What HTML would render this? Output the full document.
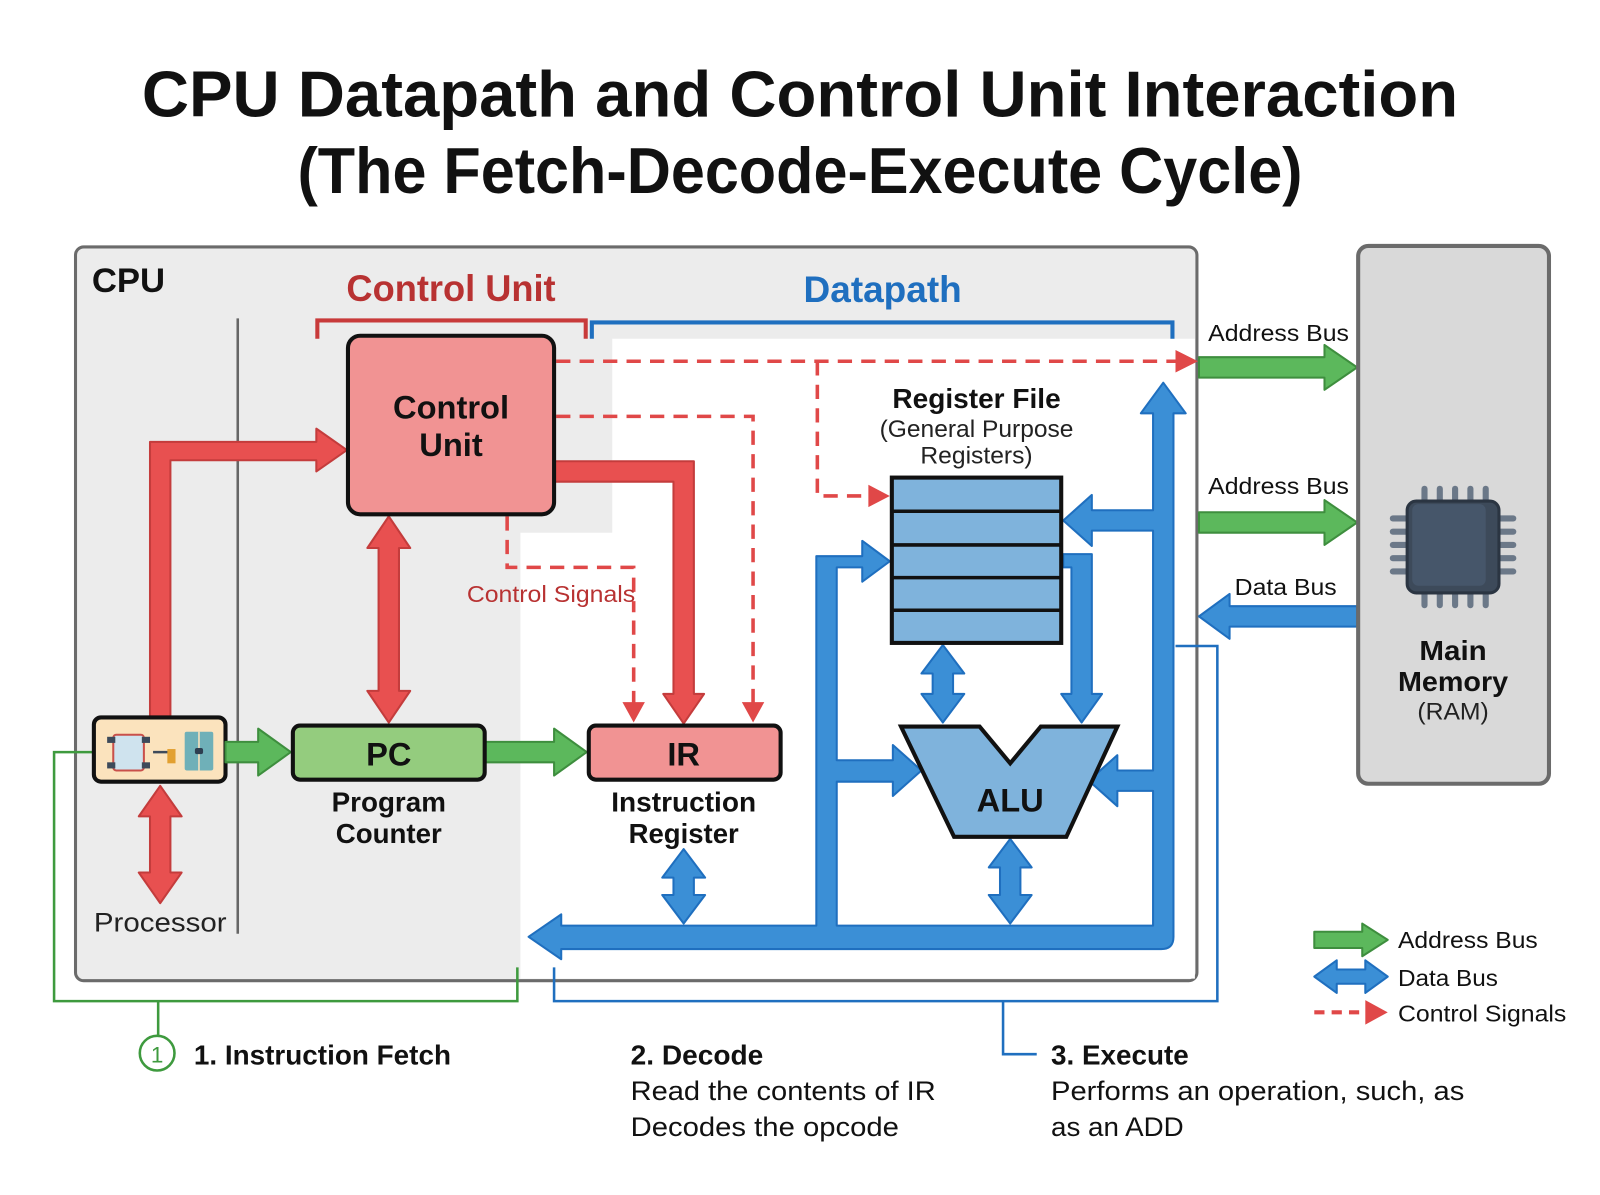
<!DOCTYPE html>
<html><head><meta charset="utf-8">
<style>html,body{margin:0;padding:0;background:#fff;}svg{display:block;}
text{font-family:"Liberation Sans",sans-serif;}</style></head>
<body>
<svg width="1600" height="1195" viewBox="0 0 1568 1171" preserveAspectRatio="none" xmlns="http://www.w3.org/2000/svg">
<rect width="1568" height="1171" fill="#fff"/>
<!-- Title -->
<text x="784" y="114" text-anchor="middle" font-size="64" font-weight="bold" fill="#111" textLength="1290" lengthAdjust="spacingAndGlyphs">CPU Datapath and Control Unit Interaction</text>
<text x="784" y="189" text-anchor="middle" font-size="64" font-weight="bold" fill="#111" textLength="985" lengthAdjust="spacingAndGlyphs">(The Fetch-Decode-Execute Cycle)</text>

<!-- CPU box -->
<rect x="74" y="242" width="1099" height="719" rx="8" fill="#ececec" stroke="#6b6b6b" stroke-width="3"/>
<path d="M600 332 H1171 V959 H510 V522 H600 Z" fill="#fff"/>
<text x="90" y="286" font-size="34" font-weight="bold" fill="#111">CPU</text>
<line x1="233" y1="312" x2="233" y2="915" stroke="#666" stroke-width="2.5"/>
<text x="442" y="295" text-anchor="middle" font-size="36" font-weight="bold" fill="#b83232" textLength="205" lengthAdjust="spacingAndGlyphs">Control Unit</text>
<path d="M311 332 V314 H574 V332" fill="none" stroke="#c83a3a" stroke-width="4"/>
<text x="865" y="296" text-anchor="middle" font-size="36" font-weight="bold" fill="#1f6fbf" textLength="155" lengthAdjust="spacingAndGlyphs">Datapath</text>
<path d="M580 332 V316 H1149 V332" fill="none" stroke="#1f6fbf" stroke-width="4"/>

<!-- Dashed control signals -->
<g fill="none" stroke="#e04848" stroke-width="3.5" stroke-dasharray="14 9">
<path d="M545 354 H1160"/>
<path d="M801 354 V486 H855"/>
<path d="M545 408 H738 V690"/>
<path d="M497 506 V556 H621 V600"/>
<path d="M621 608 V690"/>
</g>
<g fill="#e04848">
<polygon points="1152,343 1174,354 1152,365"/>
<polygon points="851,475 872,486 851,497"/>
<polygon points="727,688 738,708 749,688"/>
<polygon points="610,688 621,708 632,688"/>
</g>
<text x="540" y="590" text-anchor="middle" font-size="23" fill="#b83232" textLength="165" lengthAdjust="spacingAndGlyphs">Control Signals</text>

<!-- Red thick arrows -->
<g fill="#e85050" stroke="#c43c3c" stroke-width="2" stroke-linejoin="round">
<path d="M147 705 V433 H310 V420 L340 441 L310 462 V451 H167 V705 Z"/>
<path d="M543 452 H680 V680 H690 L670 709 L650 680 H660 V472 H543 Z"/>
<path d="M381 506 L402 537 H391 V677 H402 L381 708 L360 677 H371 V537 H360 Z"/>
<path d="M157 770 L178 800 H167 V855 H178 L157 885 L136 855 H147 V800 H136 Z"/>
</g>

<!-- Control Unit box -->
<rect x="341" y="329" width="202" height="175" rx="12" fill="#f19393" stroke="#111" stroke-width="4"/>
<text x="442" y="410" text-anchor="middle" font-size="32" font-weight="bold" fill="#111">Control</text>
<text x="442" y="447" text-anchor="middle" font-size="32" font-weight="bold" fill="#111">Unit</text>

<!-- Green thin bracket -->
<path d="M92 737 H53 V981 H507 V948" fill="none" stroke="#3e9a3e" stroke-width="2.5"/>
<line x1="155" y1="981" x2="155" y2="1015" stroke="#3e9a3e" stroke-width="2.5"/>
<circle cx="154" cy="1032" r="17" fill="#fff" stroke="#3e9a3e" stroke-width="2.5"/>
<text x="154" y="1041" text-anchor="middle" font-size="22" fill="#3e9a3e">1</text>

<!-- Blue thin bracket -->
<path d="M1152 633 H1193 V981 H543 V948" fill="none" stroke="#1f6fbf" stroke-width="2.5"/>
<path d="M983 981 V1033 H1016" fill="none" stroke="#1f6fbf" stroke-width="2.5"/>

<!-- Processor -->
<rect x="92" y="703" width="129" height="63" rx="7" fill="#fbe3bd" stroke="#111" stroke-width="4"/>
<rect x="111" y="720" width="30" height="35" rx="3" fill="#cfe3ee" stroke="#c9504a" stroke-width="2"/>
<rect x="105" y="722" width="8" height="6" fill="#3d4a5a"/><rect x="139" y="722" width="8" height="6" fill="#3d4a5a"/>
<rect x="105" y="747" width="8" height="6" fill="#3d4a5a"/><rect x="139" y="747" width="8" height="6" fill="#3d4a5a"/>
<path d="M150 737 H168" stroke="#3d4a5a" stroke-width="2.5"/>
<rect x="164" y="734" width="8" height="14" fill="#e2a030"/>
<rect x="181" y="717" width="28" height="38" rx="2" fill="#6fb0b8"/>
<line x1="195" y1="717" x2="195" y2="755" stroke="#fbe3bd" stroke-width="1.5"/>
<rect x="191" y="733" width="8" height="6" rx="2" fill="#2d3e50"/>
<text x="157" y="913" text-anchor="middle" font-size="26" fill="#222" textLength="130" lengthAdjust="spacingAndGlyphs">Processor</text>

<!-- Green thick arrows -->
<g fill="#5cb85c" stroke="#3e8e3e" stroke-width="2" stroke-linejoin="round">
<path d="M221 727 H253 V714 L285 737 L253 760 V747 H221 Z"/>
<path d="M475 727 H543 V714 L575 737 L543 760 V747 H475 Z"/>
<path d="M1175 350 H1298 V338 L1330 360 L1298 382 V370 H1175 Z"/>
<path d="M1175 502 H1298 V490 L1330 512 L1298 534 V522 H1175 Z"/>
<path d="M1288 913 H1335 V905 L1360 921 L1335 937 V929 H1288 Z"/>
</g>

<!-- PC -->
<rect x="287" y="711" width="188" height="53" rx="7" fill="#94cc7e" stroke="#111" stroke-width="4"/>
<text x="381" y="750" text-anchor="middle" font-size="32" font-weight="bold" fill="#111">PC</text>
<text x="381" y="795" text-anchor="middle" font-size="27" font-weight="bold" fill="#111" textLength="112" lengthAdjust="spacingAndGlyphs">Program</text>
<text x="381" y="826" text-anchor="middle" font-size="27" font-weight="bold" fill="#111" textLength="104" lengthAdjust="spacingAndGlyphs">Counter</text>

<!-- IR -->
<rect x="577" y="711" width="188" height="53" rx="7" fill="#f19393" stroke="#111" stroke-width="4"/>
<text x="670" y="750" text-anchor="middle" font-size="32" font-weight="bold" fill="#111">IR</text>
<text x="670" y="795" text-anchor="middle" font-size="27" font-weight="bold" fill="#111" textLength="142" lengthAdjust="spacingAndGlyphs">Instruction</text>
<text x="670" y="826" text-anchor="middle" font-size="27" font-weight="bold" fill="#111" textLength="108" lengthAdjust="spacingAndGlyphs">Register</text>

<!-- Blue bus -->
<g fill="#3b8fd6" stroke="#1f6fbf" stroke-width="2" stroke-linejoin="round">
<path d="M518 918 L550 896 V907 H800 V545 H845 V530 L872 550 L845 570 V556 H820 V745 H875 V730 L903 755 L875 780 V766 H820 V907 H1130 V775 H1095 V790 L1067 765 L1095 740 V755 H1130 V520 H1070 V535 L1042 510 L1070 485 V500 H1130 V405 H1118 L1140 375 L1162 405 H1150 V918 Q1150 930 1138 930 H550 V940 Z"/>
<path d="M1042 543 H1070 V680 H1080 L1060 708 L1040 680 H1050 V556 H1042 Z"/>
<path d="M924 632 L945 660 H934 V680 H945 L924 708 L903 680 H914 V660 H903 Z"/>
<path d="M990 822 L1011 850 H1000 V877 H1011 L990 905 L969 877 H980 V850 H969 Z"/>
<path d="M670 832 L691 860 H680 V877 H691 L670 905 L649 877 H660 V860 H649 Z"/>
<path d="M1330 594 H1205 V582 L1175 604 L1205 626 V614 H1330 Z"/>
<path d="M1288 957 L1310 941 V950 H1338 V941 L1360 957 L1338 973 V964 H1310 V973 Z"/>
</g>

<!-- Register file -->
<text x="957" y="400" text-anchor="middle" font-size="27" font-weight="bold" fill="#111" textLength="165" lengthAdjust="spacingAndGlyphs">Register File</text>
<text x="957" y="428" text-anchor="middle" font-size="24" fill="#222" textLength="190" lengthAdjust="spacingAndGlyphs">(General Purpose</text>
<text x="957" y="454" text-anchor="middle" font-size="24" fill="#222" textLength="110" lengthAdjust="spacingAndGlyphs">Registers)</text>
<rect x="874" y="468" width="166" height="162" fill="#7fb3dc" stroke="#111" stroke-width="4"/>
<g stroke="#111" stroke-width="3.5"><line x1="874" y1="501" x2="1040" y2="501"/><line x1="874" y1="534" x2="1040" y2="534"/><line x1="874" y1="566" x2="1040" y2="566"/><line x1="874" y1="598" x2="1040" y2="598"/></g>

<!-- ALU -->
<polygon points="883,712 960,712 990,748 1020,712 1095,712 1045,820 935,820" fill="#7fb3dc" stroke="#111" stroke-width="4" stroke-linejoin="miter"/>
<text x="990" y="795" text-anchor="middle" font-size="32" font-weight="bold" fill="#111">ALU</text>

<!-- Right labels -->
<text x="1184" y="334" font-size="23" fill="#111" textLength="138" lengthAdjust="spacingAndGlyphs">Address Bus</text>
<text x="1184" y="484" font-size="23" fill="#111" textLength="138" lengthAdjust="spacingAndGlyphs">Address Bus</text>
<text x="1210" y="583" font-size="23" fill="#111" textLength="100" lengthAdjust="spacingAndGlyphs">Data Bus</text>

<!-- RAM -->
<rect x="1331" y="241" width="187" height="527" rx="10" fill="#d9d9d9" stroke="#6b6b6b" stroke-width="4"/>
<g fill="#6b7888">
<rect x="1393" y="476" width="6" height="18" rx="3"/><rect x="1408" y="476" width="6" height="18" rx="3"/><rect x="1423" y="476" width="6" height="18" rx="3"/><rect x="1438" y="476" width="6" height="18" rx="3"/><rect x="1453" y="476" width="6" height="18" rx="3"/>
<rect x="1393" y="578" width="6" height="18" rx="3"/><rect x="1408" y="578" width="6" height="18" rx="3"/><rect x="1423" y="578" width="6" height="18" rx="3"/><rect x="1438" y="578" width="6" height="18" rx="3"/><rect x="1453" y="578" width="6" height="18" rx="3"/>
<rect x="1362" y="505" width="20" height="6" rx="3"/><rect x="1362" y="518" width="20" height="6" rx="3"/><rect x="1362" y="531" width="20" height="6" rx="3"/><rect x="1362" y="544" width="20" height="6" rx="3"/><rect x="1362" y="557" width="20" height="6" rx="3"/>
<rect x="1466" y="505" width="20" height="6" rx="3"/><rect x="1466" y="518" width="20" height="6" rx="3"/><rect x="1466" y="531" width="20" height="6" rx="3"/><rect x="1466" y="544" width="20" height="6" rx="3"/><rect x="1466" y="557" width="20" height="6" rx="3"/>
</g>
<rect x="1379" y="491" width="90" height="90" rx="9" fill="#3d4a5a" stroke="#2b3542" stroke-width="3"/>
<rect x="1384" y="494" width="72" height="80" rx="6" fill="#46566a"/>
<text x="1424" y="647" text-anchor="middle" font-size="27" font-weight="bold" fill="#111" textLength="66" lengthAdjust="spacingAndGlyphs">Main</text>
<text x="1424" y="677" text-anchor="middle" font-size="27" font-weight="bold" fill="#111" textLength="108" lengthAdjust="spacingAndGlyphs">Memory</text>
<text x="1424" y="705" text-anchor="middle" font-size="24" fill="#222" textLength="70" lengthAdjust="spacingAndGlyphs">(RAM)</text>

<!-- Legend -->
<text x="1370" y="929" font-size="23" fill="#111" textLength="137" lengthAdjust="spacingAndGlyphs">Address Bus</text>
<text x="1370" y="966" font-size="23" fill="#111" textLength="98" lengthAdjust="spacingAndGlyphs">Data Bus</text>
<line x1="1288" y1="992" x2="1338" y2="992" stroke="#e04848" stroke-width="4" stroke-dasharray="10 7"/>
<polygon points="1338,980 1360,992 1338,1004" fill="#e04848"/>
<text x="1370" y="1001" font-size="23" fill="#111" textLength="165" lengthAdjust="spacingAndGlyphs">Control Signals</text>

<!-- Bottom captions -->
<text x="190" y="1043" font-size="27" font-weight="bold" fill="#111" textLength="252" lengthAdjust="spacingAndGlyphs">1. Instruction Fetch</text>
<text x="618" y="1043" font-size="27" font-weight="bold" fill="#111" textLength="130" lengthAdjust="spacingAndGlyphs">2. Decode</text>
<text x="618" y="1078" font-size="26" fill="#111" textLength="299" lengthAdjust="spacingAndGlyphs">Read the contents of IR</text>
<text x="618" y="1113" font-size="26" fill="#111" textLength="263" lengthAdjust="spacingAndGlyphs">Decodes the opcode</text>
<text x="1030" y="1043" font-size="27" font-weight="bold" fill="#111" textLength="135" lengthAdjust="spacingAndGlyphs">3. Execute</text>
<text x="1030" y="1078" font-size="26" fill="#111" textLength="405" lengthAdjust="spacingAndGlyphs">Performs an operation, such, as</text>
<text x="1030" y="1113" font-size="26" fill="#111" textLength="130" lengthAdjust="spacingAndGlyphs">as an ADD</text>
</svg>
</body></html>
